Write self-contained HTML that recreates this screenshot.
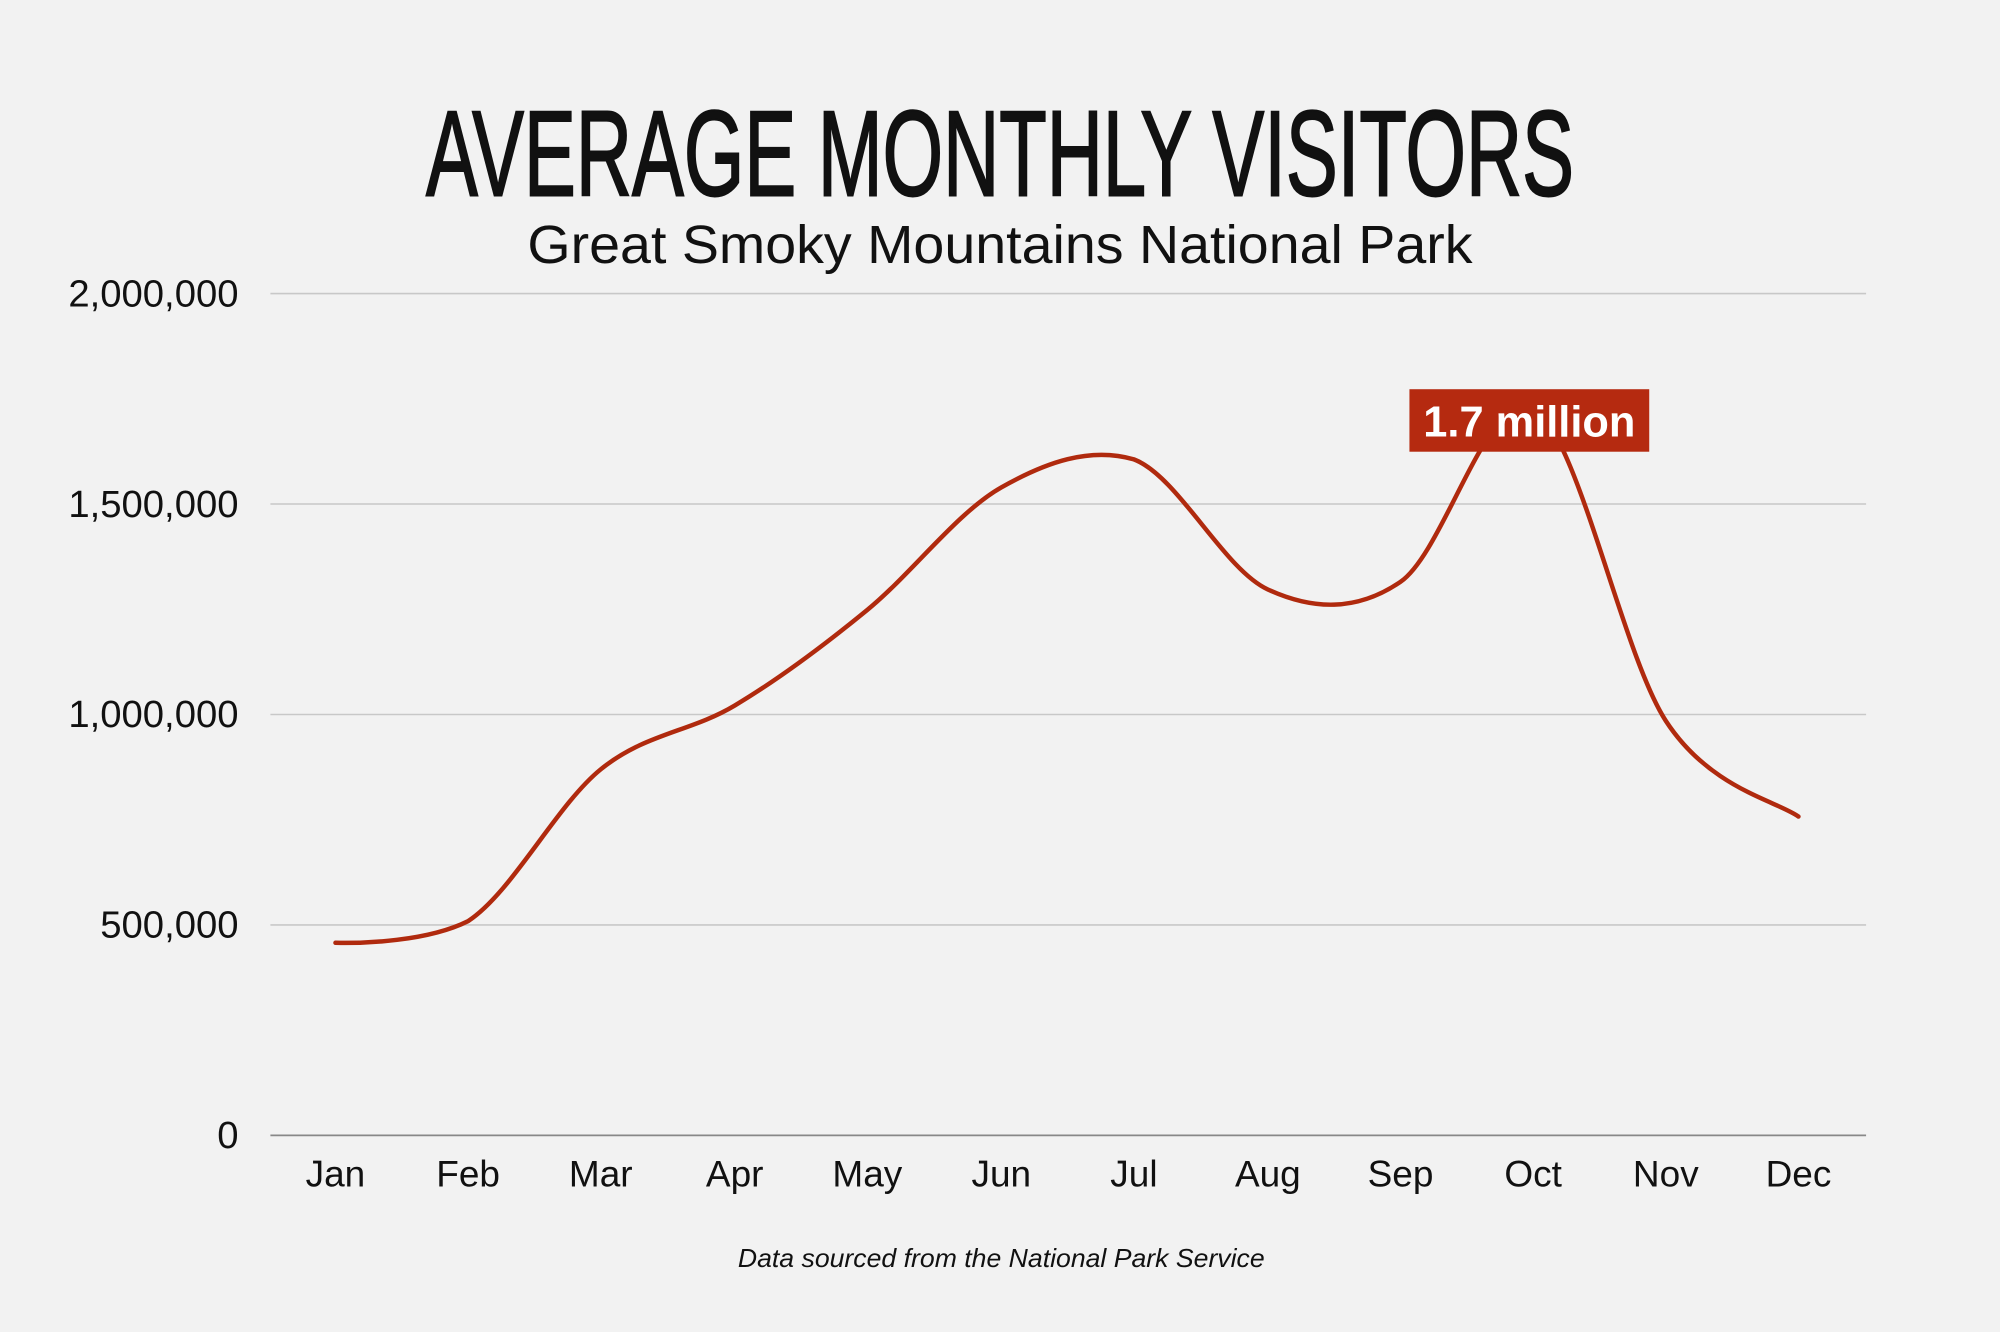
<!DOCTYPE html>
<html><head><meta charset="utf-8"><style>
html,body{margin:0;padding:0;background:#f2f2f2;}
svg{display:block;}
</style></head><body>
<svg width="2000" height="1332" viewBox="0 0 1568 1044" xmlns="http://www.w3.org/2000/svg">
<rect width="1568" height="1044" fill="#f2f2f2"/>
<text x="784" y="153" text-anchor="middle" font-family="Liberation Sans Narrow, Liberation Sans, sans-serif" font-size="95" fill="#111" stroke="#111" stroke-width="1.6" textLength="900" lengthAdjust="spacingAndGlyphs">AVERAGE MONTHLY VISITORS</text>
<text x="784" y="206" text-anchor="middle" font-family="Liberation Sans, sans-serif" font-size="42" fill="#111" textLength="741" lengthAdjust="spacingAndGlyphs">Great Smoky Mountains National Park</text>
<g stroke="#c8c8c8" stroke-width="1.2">
<line x1="212" y1="230" x2="1463" y2="230"/>
<line x1="212" y1="395" x2="1463" y2="395"/>
<line x1="212" y1="560" x2="1463" y2="560"/>
<line x1="212" y1="725" x2="1463" y2="725"/>
</g>
<line x1="212" y1="890" x2="1463" y2="890" stroke="#888" stroke-width="1.4"/>
<g font-family="Liberation Sans, sans-serif" font-size="30" fill="#111" text-anchor="end">
<text x="187" y="240">2,000,000</text>
<text x="187" y="405">1,500,000</text>
<text x="187" y="570">1,000,000</text>
<text x="187" y="735">500,000</text>
<text x="187" y="900">0</text>
</g>
<g font-family="Liberation Sans, sans-serif" font-size="29" fill="#111" text-anchor="middle">
<text x="263" y="930">Jan</text><text x="367" y="930">Feb</text><text x="471" y="930">Mar</text>
<text x="576" y="930">Apr</text><text x="680" y="930">May</text><text x="785" y="930">Jun</text>
<text x="889" y="930">Jul</text><text x="994" y="930">Aug</text><text x="1098" y="930">Sep</text>
<text x="1202" y="930">Oct</text><text x="1306" y="930">Nov</text><text x="1410" y="930">Dec</text>
</g>
<path fill="none" stroke="#b02a0e" stroke-width="3.5" stroke-linecap="round" d="M263,739 C285,739.5 335,738 367,722 C401.7,699.3 436.2,631.2 471,603 C505.8,574.8 541.2,573.8 576,553 C610.8,532.2 645.2,506.5 680,478 C714.8,449.5 750.2,401.7 785,382 C819.8,362.3 854.2,350 889,360 C923.8,373.3 959.2,446 994,462 C1028.8,478 1063.3,479.7 1098,456 C1132.7,432.3 1167.3,301.8 1202,320 C1236.7,338.2 1271.3,511.7 1306,565 C1340.7,618.3 1392.7,627.5 1410,640"/>
<rect x="1105" y="305" width="188" height="49" fill="#b52a10"/>
<text x="1199" y="342" text-anchor="middle" font-family="Liberation Sans, sans-serif" font-weight="bold" font-size="34" fill="#fff">1.7 million</text>
<text x="785" y="993" text-anchor="middle" font-family="Liberation Sans, sans-serif" font-style="italic" font-size="20" fill="#111" textLength="413" lengthAdjust="spacingAndGlyphs">Data sourced from the National Park Service</text>
</svg>
</body></html>
